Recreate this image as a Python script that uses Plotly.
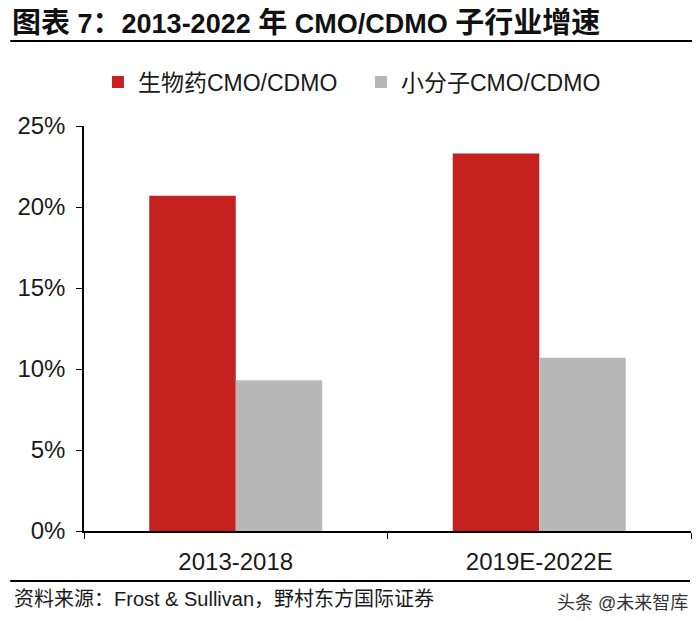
import plotly.graph_objects as go

categories = ["2013-2018", "2019E-2022E"]
series_names = ["生物药CMO/CDMO", "小分子CMO/CDMO"]
bio_values = [20.7, 23.3]
small_values = [9.3, 10.7]
y_tick_vals = [0, 5, 10, 15, 20, 25]
y_tick_text = ["0%", "5%", "10%", "15%", "20%", "25%"]

source_text = "资料来源：Frost & Sullivan，野村东方国际证券"
watermark_text = "头条 @未来智库"

# page has an 8px body margin; figure is sized to fit the 700x627 window
OFF = 8
W, H = 700 - OFF, 627 - OFF
PX0, PX1 = 82, 691      # plot area in screen px
PY0, PY1 = 126, 531
L = PX0 - OFF
R = W - (PX1 - OFF)
T = PY0 - OFF
B = H - (PY1 - OFF)
PW = PX1 - PX0
PH = PY1 - PY0


def px_x(sx):
    return (sx - PX0) / PW


def px_y(sy):
    return (PY1 - sy) / PH


FONT = "Liberation Sans, Arial, Noto Sans CJK SC, sans-serif"

fig = go.Figure()
fig.add_trace(go.Bar(x=categories, y=bio_values, name=series_names[0],
                     marker=dict(color="#C5211F", line=dict(width=0))))
fig.add_trace(go.Bar(x=categories, y=small_values, name=series_names[1],
                     marker=dict(color="#B8B8B8", line=dict(width=0))))

fig.update_layout(
    width=W, height=H,
    margin=dict(l=L, r=R, t=T, b=B),
    paper_bgcolor="white", plot_bgcolor="white",
    barmode="group", bargap=0.43, bargroupgap=0,
    font=dict(family=FONT, color="#1a1a1a", size=22),
    showlegend=True,
    legend=dict(orientation="h", x=px_x(96), xanchor="left",
                y=px_y(82), yanchor="middle",
                font=dict(size=23, family=FONT, color="#1a1a1a"),
                entrywidth=218, entrywidthmode="pixels",
                itemclick=False, bgcolor="rgba(0,0,0,0)"),
)

fig.update_xaxes(
    showline=True, linecolor="black", linewidth=1.5,
    ticks="outside", tickson="boundaries", ticklen=6, tickcolor="black",
    ticklabelstandoff=8,
    tickfont=dict(size=24, family=FONT, color="#1a1a1a"),
    showgrid=False, zeroline=False, fixedrange=True,
)
fig.update_yaxes(
    range=[0, 25], tickvals=y_tick_vals, ticktext=y_tick_text,
    showline=True, linecolor="black", linewidth=1.5,
    ticks="outside", ticklen=6, tickcolor="black",
    ticklabelstandoff=6,
    tickfont=dict(size=24, family=FONT, color="#1a1a1a"),
    showgrid=False, zeroline=False, fixedrange=True,
)

# title (CJK parts slightly larger, as in the reference)
cj = '<span style="font-size:29px">'
title_html = ("<b>" + cj + "图表</span> 7" + cj + "：</span>2013-2022 " + cj + "年</span>"
              " CMO/CDMO " + cj + "子行业增速</span></b>")
fig.add_annotation(text=title_html, xref="paper", yref="paper",
                   x=px_x(8), y=px_y(23), xanchor="left", yanchor="middle",
                   showarrow=False, font=dict(size=27, family=FONT, color="#111111"))
# rule under title
fig.add_shape(type="line", xref="paper", yref="paper",
              x0=px_x(8), x1=px_x(695), y0=px_y(41), y1=px_y(41),
              line=dict(color="black", width=2))
# rule above source
fig.add_shape(type="line", xref="paper", yref="paper",
              x0=px_x(8), x1=px_x(690), y0=px_y(581), y1=px_y(581),
              line=dict(color="black", width=2))
# source
fig.add_annotation(text=source_text, xref="paper", yref="paper",
                   x=px_x(10), y=px_y(599), xanchor="left", yanchor="middle",
                   showarrow=False, font=dict(size=20, family=FONT, color="#1a1a1a"))
# watermark
fig.add_annotation(text=watermark_text, xref="paper", yref="paper",
                   x=px_x(690), y=px_y(603), xanchor="right", yanchor="middle",
                   showarrow=False, font=dict(size=18, family=FONT, color="#333333"))

fig.write_html("out.html")
